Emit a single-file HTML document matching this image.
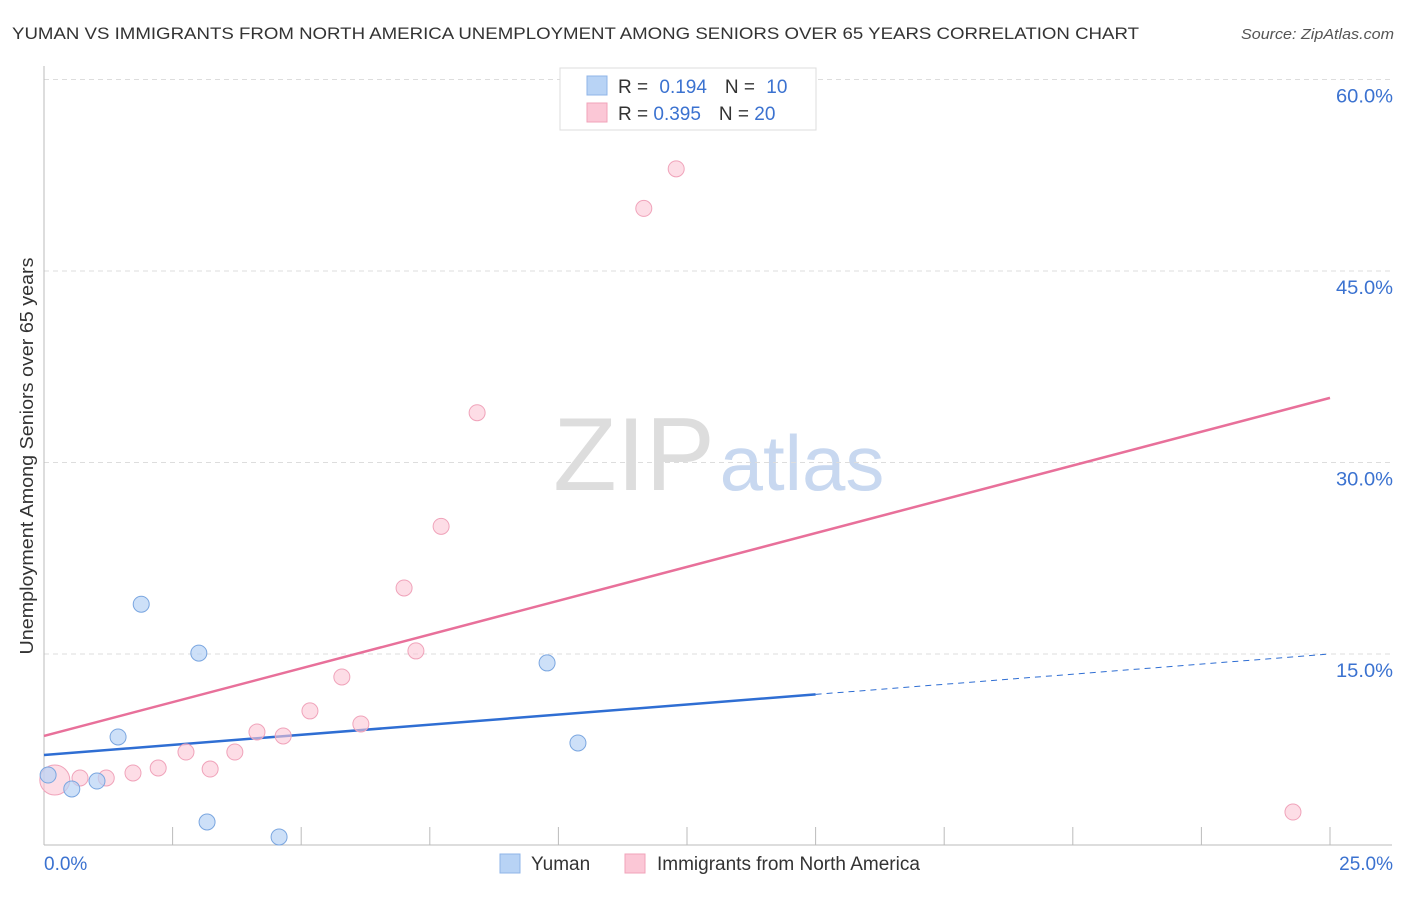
<!DOCTYPE html>
<html><head><meta charset="utf-8"><style>
body{margin:0;background:#fff;font-family:"Liberation Sans",sans-serif;}
svg text{font-family:"Liberation Sans",sans-serif;}
</style></head><body>
<svg id="c" width="1406" height="892">
<text x="12" y="39" font-size="17" fill="#333" textLength="1127" lengthAdjust="spacingAndGlyphs">YUMAN VS IMMIGRANTS FROM NORTH AMERICA UNEMPLOYMENT AMONG SENIORS OVER 65 YEARS CORRELATION CHART</text>
<text x="1241" y="39" font-size="15" fill="#555" font-style="italic" textLength="153" lengthAdjust="spacingAndGlyphs">Source: ZipAtlas.com</text>
<text transform="translate(33,456) rotate(-90)" font-size="18" fill="#333" text-anchor="middle" textLength="397" lengthAdjust="spacingAndGlyphs">Unemployment Among Seniors over 65 years</text>
<g><text x="634" y="490" font-size="104" fill="#ddd" font-family="Liberation Serif" text-anchor="middle">ZIP</text><text x="802" y="490" font-size="78" fill="#c8d8f0" text-anchor="middle">atlas</text></g>
<g id="grid"></g><g id="axes"></g><g id="trends"></g><g id="pts"></g>
<g>
<rect x="560" y="68" width="256" height="62" fill="#fff" stroke="#ddd"/>
<rect x="587" y="76" width="20" height="19" fill="#b8d3f5" stroke="#8fb5e8"/>
<rect x="587" y="103" width="20" height="19" fill="#fbc7d6" stroke="#f0a3ba"/>
<text x="618" y="93" font-size="19" fill="#333">R = <tspan fill="#3b72d0" dx="6">0.194</tspan><tspan dx="18" fill="#333">N = </tspan><tspan fill="#3b72d0" dx="6">10</tspan></text>
<text x="618" y="120" font-size="19" fill="#333">R = <tspan fill="#3b72d0">0.395</tspan><tspan dx="18" fill="#333">N = </tspan><tspan fill="#3b72d0">20</tspan></text>
</g>
<g>
<rect x="500" y="854" width="20" height="19" fill="#b8d3f5" stroke="#8fb5e8"/><text x="531" y="870" font-size="19" fill="#333">Yuman</text>
<rect x="625" y="854" width="20" height="19" fill="#fbc7d6" stroke="#f0a3ba"/><text x="657" y="870" font-size="19" fill="#333">Immigrants from North America</text>
</g>
</svg>
<script>
const xTicks=[0,2.5,5,7.5,10,12.5,15,17.5,20,22.5,25];
const yTicks=[15,30,45,60];
const yTickLabels=["15.0%","30.0%","45.0%","60.0%"];
const xEndLabels=["0.0%","25.0%"];
const yumanX=[0.08,0.54,1.03,1.44,1.89,3.01,3.17,4.57,9.78,10.38];
const yumanY=[5.52,4.43,5.05,8.5,18.9,15.07,1.84,0.67,14.3,8.03];
const immX=[0.21,0.70,1.21,1.73,2.22,2.76,3.23,3.71,4.14,4.65,5.17,5.79,6.16,7.0,7.23,7.72,8.42,11.66,12.29,24.28];
const immY=[5.13,5.29,5.29,5.68,6.07,7.32,5.99,7.32,8.89,8.58,10.54,13.2,9.52,20.17,15.24,25.0,33.9,49.9,53.0,2.62];
const yumanTrend=[7.09,15.0];
const immTrend=[8.58,35.06];
const NS="http://www.w3.org/2000/svg";
const sx=v=>44+v*51.44, sy=v=>845.5-v*12.767;
function mk(p,t,a){const e=document.createElementNS(NS,t);for(const k in a)e.setAttribute(k,a[k]);document.getElementById(p).appendChild(e);return e;}
yTicks.forEach((t,i)=>{
 const g=mk('grid','line',{x1:44,x2:1392,y1:sy(t),y2:sy(t),stroke:'#ddd','stroke-dasharray':'5,4'});
 
 
 const l=mk('grid','text',{x:1393,y:sy(t)+23,'font-size':19,fill:'#3b72d0','text-anchor':'end',textLength:57,lengthAdjust:'spacingAndGlyphs'});l.textContent=yTickLabels[i];
 
 
});
const ax=mk('axes','line',{x1:44,x2:44,y1:66,y2:845,stroke:'#bbb'});


const bx=mk('axes','line',{x1:44,x2:1392,y1:845,y2:845,stroke:'#bbb'});


xTicks.forEach(t=>{const e=mk('axes','line',{x1:sx(t),x2:sx(t),y1:827,y2:845,stroke:'#bbb'});
 
 });
const l0=mk('axes','text',{x:44,y:870,'font-size':19,fill:'#3b72d0'});l0.textContent=xEndLabels[0];


const l1=mk('axes','text',{x:1393,y:870,'font-size':19,fill:'#3b72d0','text-anchor':'end'});l1.textContent=xEndLabels[1];


const ty=x=>yumanTrend[0]+(yumanTrend[1]-yumanTrend[0])*x/25;
const ti=x=>immTrend[0]+(immTrend[1]-immTrend[0])*x/25;
const t1=mk('trends','line',{x1:sx(0),y1:sy(ti(0)),x2:sx(25),y2:sy(ti(25)),stroke:'#e8709a','stroke-width':2.5});


const t2=mk('trends','line',{x1:sx(0),y1:sy(ty(0)),x2:sx(15),y2:sy(ty(15)),stroke:'#2f6ed3','stroke-width':2.5});


const t3=mk('trends','line',{x1:sx(15),y1:sy(ty(15)),x2:sx(25),y2:sy(ty(25)),stroke:'#2f6ed3','stroke-width':1,'stroke-dasharray':'6,5'});


immX.forEach((x,i)=>{const c=mk('pts','circle',{cx:sx(x),cy:sy(immY[i]),r:i==0?15:8,fill:'#fbc7d6','fill-opacity':0.6,stroke:'#f0a3ba'});
 
 });
yumanX.forEach((x,i)=>{const c=mk('pts','circle',{cx:sx(x),cy:sy(yumanY[i]),r:8,fill:'#b8d3f5','fill-opacity':0.7,stroke:'#7aa6e0'});
 
 });
</script>
</body></html>
